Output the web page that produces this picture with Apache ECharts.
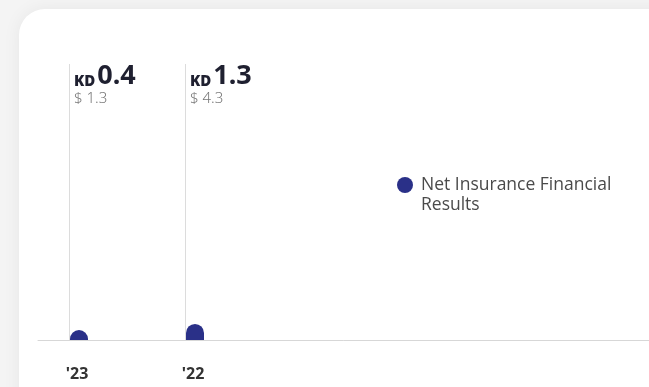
<!DOCTYPE html>
<html>
<head>
<meta charset="utf-8">
<script src="https://cdn.jsdelivr.net/npm/echarts@6/dist/echarts.min.js"></script>
<style>
  html, body { margin: 0; padding: 0; width: 649px; height: 387px; overflow: hidden; background: #f4f4f4; }
  #card { position: absolute; left: 19px; top: 9px; width: 720px; height: 460px; background: #fff; border-radius: 26px; box-shadow: 0 0 18px rgba(0,0,0,0.06); }
  #chart { position: absolute; left: 0; top: 0; width: 649px; height: 387px; }
</style>
</head>
<body>
<div id="card"></div>
<div id="chart"></div>
<script>
const categories = ["'23", "'22"];
const kdValues = [0.4, 1.3];
const usdValues = [1.3, 4.3];
const seriesName = 'Net Insurance Financial Results';
const axisSlots = 6;

const axisData = categories.concat(new Array(axisSlots - categories.length).fill(''));
const data = categories.map((c, i) => [i, kdValues[i], usdValues[i]]);

const FONT = '"Noto Sans", sans-serif';
const BAR_COLOR = '#2a3088';

const chart = echarts.init(document.getElementById('chart'), null, { renderer: 'canvas' });
chart.setOption({
  backgroundColor: 'transparent',
  animation: false,
  textStyle: { fontFamily: FONT },
  legend: {
    left: 397, top: 155, padding: 0,
    icon: 'circle', itemWidth: 16, itemHeight: 16, itemGap: 0,
    data: [{ name: seriesName, itemStyle: { color: BAR_COLOR } }],
    formatter: function (name) { return '\n' + name; },
    textStyle: { fontFamily: '"Open Sans", sans-serif', fontSize: 17.5, color: '#4a4a4a', width: 215, overflow: 'break', lineHeight: 20, padding: [0, 0, 0, 3] }
  },
  grid: { left: 38, top: 64, bottom: 47, width: 116 * axisSlots, outerBoundsMode: 'none', containLabel: false },
  xAxis: {
    type: 'category', data: axisData, boundaryGap: true,
    axisLine: { lineStyle: { color: '#d7d7d7', width: 1 } },
    axisTick: { show: false },
    axisLabel: { margin: 26, fontFamily: FONT, fontSize: 16, fontWeight: 'bold', color: '#333', padding: [0, 38, 0, 0] }
  },
  yAxis: { type: 'value', min: 0, max: 22.4, show: false, splitLine: { show: false } },
  series: [{
    type: 'custom', name: seriesName,
    itemStyle: { color: BAR_COLOR },
    data: data,
    renderItem: function (params, api) {
      const base = api.coord([api.value(0), 0]);
      const topPt = api.coord([api.value(0), api.value(1)]);
      const bw = api.size([1, 0])[0];
      const left = Math.round(base[0] - bw / 2 + 32);
      const barW = 18;
      const h = Math.max(base[1] - topPt[1], 10);
      const gridTop = params.coordSys.y;
      const kd = api.value(1), usd = api.value(2);
      return {
        type: 'group',
        children: [
          { type: 'line', shape: { x1: left - 0.5, y1: gridTop, x2: left - 0.5, y2: base[1] }, style: { stroke: '#dcdcdc', lineWidth: 1 } },
          { type: 'rect', shape: { x: left, y: base[1] - h, width: barW, height: h, r: [9, 9, 0, 0] }, style: { fill: BAR_COLOR } },
          { type: 'text', x: left + 4, y: gridTop - 2,
            style: {
              text: '{kd|KD}{v|' + kd.toFixed(1) + '}\n{usd|$ ' + usd.toFixed(1) + '}',
              verticalAlign: 'top', align: 'left',
              rich: {
                kd: { fontFamily: FONT, fontSize: 15, fontWeight: 900, fill: '#1f2030', padding: [0, 2, 1, 0], verticalAlign: 'bottom', lineHeight: 28 },
                v: { fontFamily: FONT, fontSize: 27, fontWeight: 'bold', fill: '#1f2030', lineHeight: 28 },
                usd: { fontFamily: FONT, fontSize: 15, fontWeight: 300, fill: '#777', lineHeight: 18 }
              }
            } }
        ]
      };
    }
  }]
});
</script>
</body>
</html>
